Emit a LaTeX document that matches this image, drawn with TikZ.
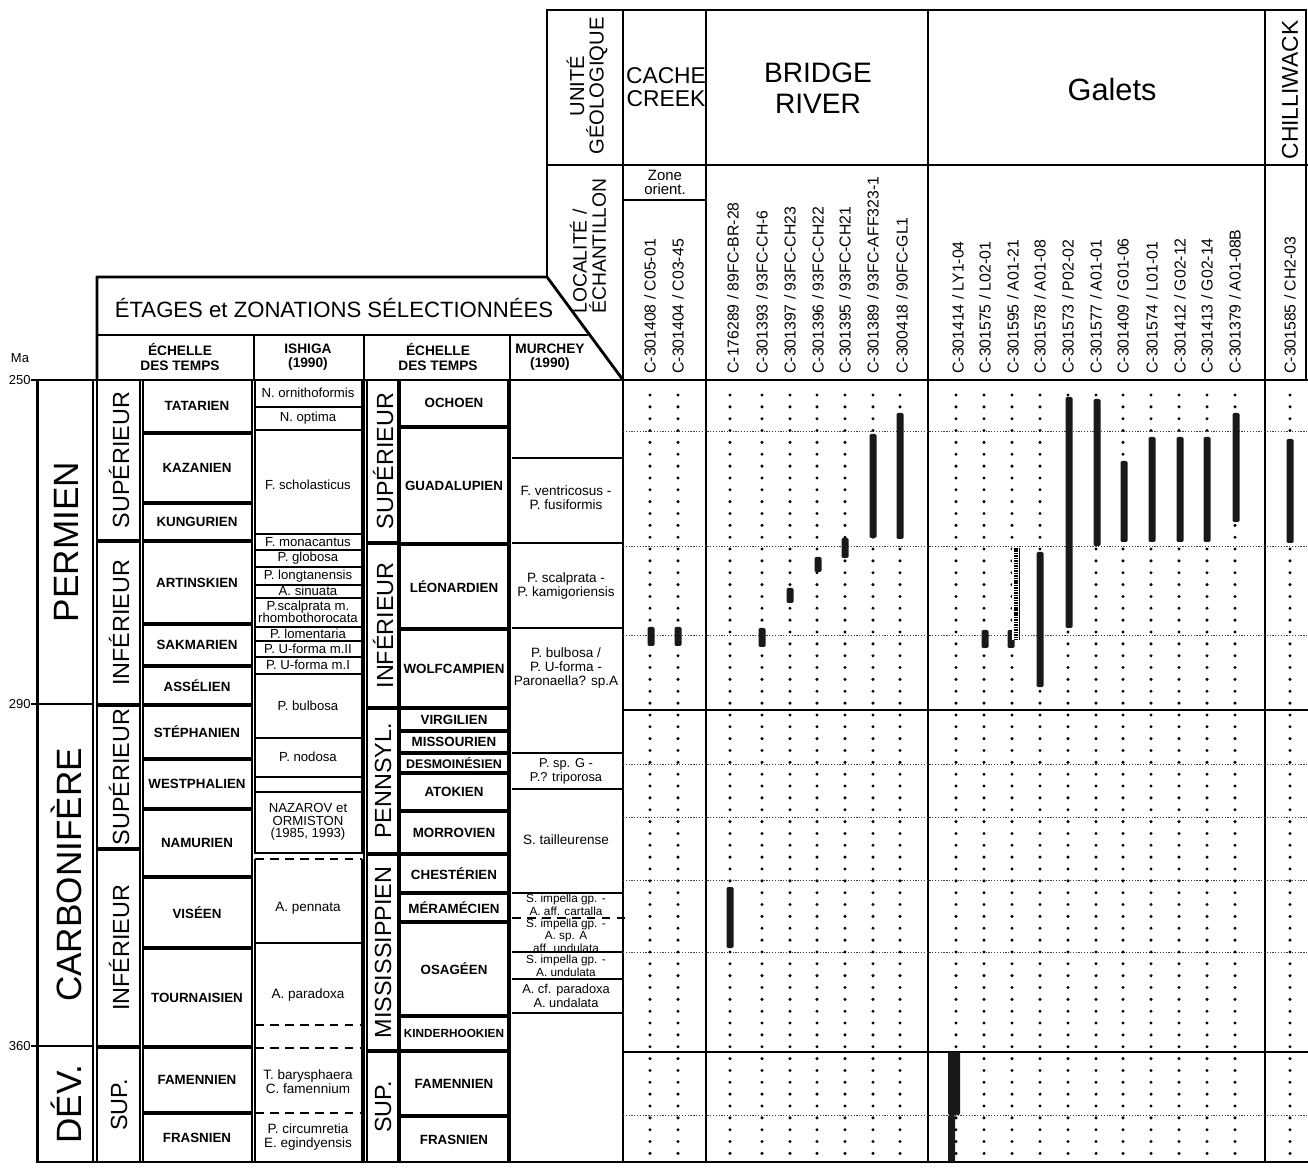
\documentclass[tikz,border=0pt]{standalone}
\usepackage{fontspec}
\setmainfont{Liberation Sans}

\tikzset{
  frame/.style={line width=1.6pt},
  boxln/.style={line width=1.2pt},
  cell/.style={line width=0.9pt},
  cut/.style={line width=1pt, dash pattern=on 5pt off 3.5pt},
  guide/.style={line width=0.45pt, black!75, dash pattern=on 0.7pt off 0.9pt},
  bar/.style={fill=black!90, rounded corners=0.8pt},
  stagelbl/.style={font=\fontsize{7.6}{8}\selectfont\bfseries, inner sep=0pt, align=center},
  taxonlbl/.style={font=\fontsize{7.7}{7.8}\selectfont, inner sep=0pt, align=center},
  tightlbl/.style={font=\fontsize{7.3}{6.6}\selectfont, inner sep=0pt, align=center},
  crowdlbl/.style={font=\fontsize{6.7}{5.9}\selectfont, inner sep=0pt, align=center},
  headlbl/.style={font=\fontsize{7.8}{8}\selectfont\bfseries, inner sep=0pt, align=center},
  epochlbl/.style={font=\fontsize{13.3}{14}\selectfont, rotate=90, inner sep=0pt},
  periodlbl/.style={font=\fontsize{20}{20}\selectfont, rotate=90, inner sep=0pt},
  samplelbl/.style={font=\fontsize{9}{9}\selectfont, rotate=90, anchor=west, inner sep=0pt},
}

\begin{document}
\begin{tikzpicture}[x=0.02cm, y=-0.02cm]
\useasboundingbox (0,0) rectangle (1308,1168);

% time scale (Ma)
\node[font=\fontsize{7.4}{8}\selectfont, inner sep=0pt] (ma) at (20,358) {Ma};
\foreach \y/\ma in {380/250, 704/290, 1046/360}
{
  \draw[cell] (31,\y) -- (40,\y);
  \node[font=\fontsize{7.4}{8}\selectfont, inner sep=0pt, anchor=east] (ma\ma) at (31,\y) {\ma};
}

% periods
\foreach \ya/\yb/\lab [count=\i] in {380/704/PERMIEN, 704/1046/CARBONIFÈRE, 1046/1162/DÉV.}
{
  \draw[frame] (38,\ya) rectangle (93,\yb);
  \node[periodlbl] (per\i) at (66,{(\ya+\yb)/2}) {\lab};
}

% epochs, european scale
\foreach \ya/\yb/\lab [count=\i] in {380/540/SUPÉRIEUR, 542/704/INFÉRIEUR, 706/848/SUPÉRIEUR, 850/1046/INFÉRIEUR, 1048/1162/SUP.}
{
  \draw[frame] (97,\ya) rectangle (140,\yb);
  \node[epochlbl] (epl\i) at (119,{(\ya+\yb)/2}) {\lab};
}

% stages, european scale
\foreach \ya/\yb/\lab [count=\i] in {380/432/TATARIEN, 434/502/KAZANIEN, 504/540/KUNGURIEN, 542/623/ARTINSKIEN,
  625/665/SAKMARIEN, 667/704/ASSÉLIEN, 706/758/STÉPHANIEN, 760/808/WESTPHALIEN, 810/876/NAMURIEN,
  878/947/VISÉEN, 949/1046/TOURNAISIEN, 1048/1112/FAMENNIEN, 1114/1162/FRASNIEN}
{
  \draw[boxln] (143,\ya) rectangle (252,\yb);
  \node[stagelbl] (stl\i) at (197,{(\ya+\yb)/2}) {\lab};
}

% zones of Ishiga (1990)
\foreach \ya/\yb/\lab/\ty [count=\i] in {380/407/N. ornithoformis/393, 407/430/N. optima/418,
  430/534/F. scholasticus/485, 534/550/F. monacantus/542, 550/567/P. globosa/558,
  567/585/P. longtanensis/576, 585/598/A. sinuata/591, 598/627/{P.scalprata m.\\rhombothorocata}/612,
  627/641/P. lomentaria/634, 641/657/P. U-forma m.II/649, 657/674/P. U-forma m.I/665,
  674/738/P. bulbosa/706, 738/777/P. nodosa/757, 777/792//785,
  792/853/{NAZAROV et\\ORMISTON\\(1985, 1993)}/822}
{
  \draw[cell] (255,\ya) rectangle (362,\yb);
  \node[tightlbl, font=\fontsize{7.5}{7}\selectfont] (ish\i) at (308,\ty) {\lab};
}
\draw[cell] (255,859) -- (255,1162) -- (362,1162) -- (362,859);
\draw[cell] (255,943) -- (362,943);
\foreach \y in {859,1025,1048,1113}
  \draw[cut] (255,\y) -- (362,\y);
\node[taxonlbl] (ish16) at (308,908) {A. pennata};
\node[taxonlbl] (ish17) at (308,995) {A. paradoxa};
\node[taxonlbl] (ish18) at (308,1082) {T. barysphaera\\C. famennium};
\node[taxonlbl] (ish19) at (308,1137) {P. circumretia\\E. egindyensis};

% north american scale
\draw[frame] (364,335) -- (364,1162);
\draw[frame] (510,335) -- (510,1162);
\foreach \ya/\yb/\lab [count=\i] in {380/542/SUPÉRIEUR, 544/707/INFÉRIEUR, 709/853/PENNSYL.,
  855/1050/MISSISSIPPIEN, 1052/1162/SUP.}
{
  \draw[boxln] (367,\ya) rectangle (398,\yb);
  \node[epochlbl] (epa\i) at (383,{(\ya+\yb)/2}) {\lab};
}
\foreach \ya/\yb/\lab [count=\i] in {380/426/OCHOEN, 428/543/GUADALUPIEN, 545/628/LÉONARDIEN,
  630/707/WOLFCAMPIEN, 709/730/VIRGILIEN, 732/752/MISSOURIEN,
  754/772/{\fontsize{7.1}{7}\selectfont DESMOINÉSIEN}, 774/810/ATOKIEN, 812/853/MORROVIEN,
  855/892/CHESTÉRIEN, 894/921/MÉRAMÉCIEN, 923/1015/OSAGÉEN,
  1017/1050/{\fontsize{6.7}{7}\selectfont KINDERHOOKIEN}, 1052/1115/FAMENNIEN, 1117/1162/FRASNIEN}
{
  \draw[boxln] (400,\ya) rectangle (508,\yb);
  \node[stagelbl] (sta\i) at (454,{(\ya+\yb)/2}) {\lab};
}

% zones of Murchey (1990)
\foreach \y in {458,543,628,753,789,893,952,979,1013}
  \draw[cell] (512,\y) -- (623,\y);
\draw[cut] (512,918) -- (625,918);
\node[taxonlbl] (mur1) at (566,498) {F. ventricosus -\\P. fusiformis};
\node[taxonlbl] (mur2) at (566,586) {P. scalprata -\\P. kamigoriensis};
\node[taxonlbl] (mur3) at (566,668) {P. bulbosa /\\P. U-forma -\\Paronaella? sp.A};
\node[tightlbl] (mur4) at (566,771) {P. sp. G -\\P.? triporosa};
\node[taxonlbl] (mur5) at (566,840) {S. tailleurense};
\node[crowdlbl] (mur6) at (566,905) {S. impella gp. -\\A. aff. cartalla};
\node[crowdlbl] (mur7) at (566,936) {S. impella gp. -\\A. sp. A\\aff. undulata};
\node[crowdlbl] (mur8) at (566,966) {S. impella gp. -\\A. undulata};
\node[tightlbl] (mur9) at (566,996) {A. cf. paradoxa\\A. undalata};

% headers of the scales
\draw[frame] (97,380) -- (97,277) -- (547,277) -- (623,380);
\draw[frame] (97,335) -- (588,335);
\draw[cell] (254,335) -- (254,380);
\node[font=\fontsize{12.6}{13}\selectfont, inner sep=0pt] (etages) at (334,308) {ÉTAGES et ZONATIONS SÉLECTIONNÉES};
\node[headlbl] (hd1) at (180,357) {ÉCHELLE\\DES TEMPS};
\node[headlbl] (hd2) at (308,357) {ISHIGA\\(1990)};
\node[headlbl] (hd3) at (438,357) {ÉCHELLE\\DES TEMPS};
\node[headlbl] (hd4) at (550,357) {MURCHEY\\(1990)};

% units and samples
\draw[frame] (547,277) -- (547,10) -- (1306,10) -- (1306,380);
\draw[frame] (547,165) -- (1308,165);
\foreach \x in {623,706,928,1265}
  \draw[frame] (\x,10) -- (\x,1162);
\draw[cell] (623,200) -- (706,200);
\node[font=\fontsize{11.5}{11}\selectfont, rotate=90, align=center, inner sep=0pt] (unite) at (587,86) {UNITÉ\\GÉOLOGIQUE};
\node[font=\fontsize{11}{11}\selectfont, rotate=90, align=left, anchor=west, inner sep=0pt] (localite) at (588,314) {LOCALITÉ /\\ÉCHANTILLON};
\node[font=\fontsize{13}{13}\selectfont, align=center, inner sep=0pt] (cache) at (666,87) {CACHE\\CREEK};
\node[font=\fontsize{16}{17.5}\selectfont, align=center, inner sep=0pt] (bridge) at (818,88) {BRIDGE\\RIVER};
\node[font=\fontsize{17.5}{18}\selectfont, inner sep=0pt] (galets) at (1112,90) {Galets};
\node[font=\fontsize{13}{13}\selectfont, rotate=90, inner sep=0pt] (chilli) at (1290,90) {CHILLIWACK};
\node[font=\fontsize{8.5}{8}\selectfont, align=center, inner sep=0pt] (zone) at (665,182) {Zone\\orient.};

\foreach \x/\ca/\cb [count=\i] in {650/C-301408/C05-01, 678/C-301404/C03-45,
  733/C-176289/89FC-BR-28, 762/C-301393/93FC-CH-6, 790/C-301397/93FC-CH23, 818/C-301396/93FC-CH22,
  845/C-301395/93FC-CH21, 873/C-301389/93FC-AFF323-1, 902/C-300418/90FC-GL1,
  958/C-301414/LY1-04, 985/C-301575/L02-01, 1013/C-301595/A01-21, 1040/C-301578/A01-08,
  1068/C-301573/P02-02, 1096/C-301577/A01-01, 1123/C-301409/G01-06, 1152/C-301574/L01-01,
  1180/C-301412/G02-12, 1207/C-301413/G02-14, 1235/C-301379/A01-08B, 1290/C-301585/CH2-03}
  \node[samplelbl] (smp\i) at (\x,374) {\ca{} / \cb};

% ranges
\draw[frame] (37,380) -- (37,1162) -- (1308,1162);
\draw[frame] (37,380) -- (1308,380);
\foreach \y in {431,546,635,764,817,880,952,1115}
  \draw[guide] (623,\y) -- (1308,\y);
\draw[frame] (623,710) -- (1308,710);
\draw[frame] (623,1052) -- (1308,1052);

\foreach \x in {650,678,730,762,790,817,845,873,900,956,984,1012,1040,1068,1096,1123,1151,1179,1207,1235,1290}
  \foreach \k in {0,...,64}
    \fill ({\x},{395+11.85*\k}) circle[radius=0.95pt];

\foreach \x/\ya/\yb in {651/627/646, 678/627/646, 730/887/948, 762/628/647, 790/588/603,
  818/557/572, 845/538/558, 873/434/538, 900/413/539, 985/630/648, 1011/630/648,
  1040/552/687, 1069/397/628, 1097/399/546, 1124/461/542, 1152/437/542, 1180/437/542,
  1207/437/542, 1236/413/522, 1290/439/543}
  \fill[bar] ({\x-3.5},\ya) rectangle ({\x+3.5},\yb);
\fill[white] (1012,548) rectangle (1021,640);
\draw[line width=2.6pt, dash pattern=on 0.9pt off 0.5pt] (1016,548) -- (1016,640);
\draw[line width=0.8pt] (1019.5,548) -- (1019.5,640);
\fill[bar] (948,1052) rectangle (960,1115);
\fill[bar] (948,1115) rectangle (955,1162);

\end{tikzpicture}
\end{document}
